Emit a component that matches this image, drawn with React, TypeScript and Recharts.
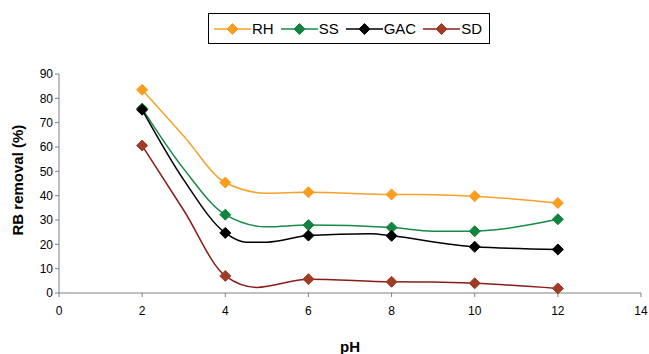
import { LineChart, Line, XAxis, YAxis } from 'recharts'

// pH values sampled; markers are drawn on the even ones only
const PH = [2, 3, 4, 4.5, 4.75, 5, 6, 7.5, 8, 9, 10, 10.5, 12]

const RH = [83.5, 64.5, 45.4, null, null, 41, 41.4, null, 40.5, 40.4, 39.8, null, 37]
const SS = [75.8, 51, 32.2, null, null, 27.2, 27.9, null, 26.9, 25.4, 25.4, 26, 30.3]
const GAC = [75.3, 46.5, 24.7, 20.9, null, 20.9, 23.6, 24.4, 23.5, null, 19, null, 17.9]
const SD = [60.6, 34, 7, null, 2.3, null, 5.7, null, 4.6, 4.5, 4.0, null, 1.9]

const X_TICKS = [0, 2, 4, 6, 8, 10, 12, 14]
const Y_TICKS = [0, 10, 20, 30, 40, 50, 60, 70, 80, 90]

const SERIES = [
  { key: 'RH', values: RH, line: '#F7A02A', marker: '#F99D1F' },
  { key: 'SS', values: SS, line: '#178A47', marker: '#13843F' },
  { key: 'GAC', values: GAC, line: '#000000', marker: '#000000' },
  { key: 'SD', values: SD, line: '#8A1C1C', marker: '#A03C24' },
]

const data = PH.map((ph, i) => {
  const row: Record<string, number | null> = { ph }
  SERIES.forEach((s) => { row[s.key] = s.values[i] })
  return row
})

const FONT = '"Liberation Sans", Arial, sans-serif'

function Diamond({ x, y, r, color }: { x: number; y: number; r: number; color: string }) {
  return (
    <polygon
      points={`${x},${y - r} ${x + r},${y} ${x},${y + r} ${x - r},${y}`}
      fill={color}
      stroke={color}
      strokeWidth={1}
    />
  )
}

function makeDot(color: string) {
  return (props: any) => {
    const { cx, cy, payload, value, index } = props
    if (value == null || cy == null || payload.ph % 2 !== 0) return <g key={index} />
    return (
      <g key={index}>
        <Diamond x={cx} y={cy} r={5.5} color={color} />
      </g>
    )
  }
}

function LegendBox() {
  return (
    <div
      style={{
        position: 'absolute',
        left: 208,
        top: 13,
        display: 'flex',
        alignItems: 'center',
        whiteSpace: 'nowrap',
        border: '1px solid #000',
        height: 31,
        width: 282,
        boxSizing: 'border-box',
        paddingLeft: 5,
        fontFamily: FONT,
        fontSize: 15,
        background: '#fff',
      }}
    >
      {SERIES.map((s) => (
        <div key={s.key} style={{ display: 'flex', alignItems: 'center', marginRight: 7 }}>
          <svg width={37} height={14}>
            <line x1={0} y1={7} x2={37} y2={7} stroke={s.line} strokeWidth={1.5} />
            <Diamond x={18.5} y={7} r={5.5} color={s.marker} />
          </svg>
          <span style={{ marginLeft: 1 }}>{s.key}</span>
        </div>
      ))}
    </div>
  )
}

export default function App() {
  return (
    <div style={{ position: 'absolute', left: 0, top: 0, width: 649, height: 354, background: '#fff' }}>
      <LineChart
        width={649}
        height={354}
        data={data}
        margin={{ top: 74, right: 8, bottom: 0, left: 0 }}
        style={{ fontFamily: FONT }}
      >
        <XAxis
          dataKey="ph"
          type="number"
          domain={[0, 14]}
          ticks={X_TICKS}
          height={61}
          stroke="#808080"
          tickSize={4}
          tick={{ fontSize: 12, fill: '#000' }}
          tickMargin={9}
          label={{ value: 'pH', position: 'insideBottom', offset: 2, style: { fontSize: 15, fontWeight: 'bold', fill: '#000' } }}
        />
        <YAxis
          type="number"
          domain={[0, 90]}
          ticks={Y_TICKS}
          width={59}
          stroke="#808080"
          tickSize={4}
          tick={{ fontSize: 12, fill: '#000' }}
          label={{ value: 'RB removal (%)', angle: -90, position: 'insideLeft', offset: 18, dy: 52, style: { fontSize: 15, fontWeight: 'bold', fill: '#000' } }}
        />
        {SERIES.map((s) => (
          <Line
            key={s.key}
            dataKey={s.key}
            type="monotone"
            stroke={s.line}
            strokeWidth={1.5}
            connectNulls
            dot={makeDot(s.marker)}
            activeDot={false}
            isAnimationActive={false}
          />
        ))}
      </LineChart>
      <LegendBox />
    </div>
  )
}
